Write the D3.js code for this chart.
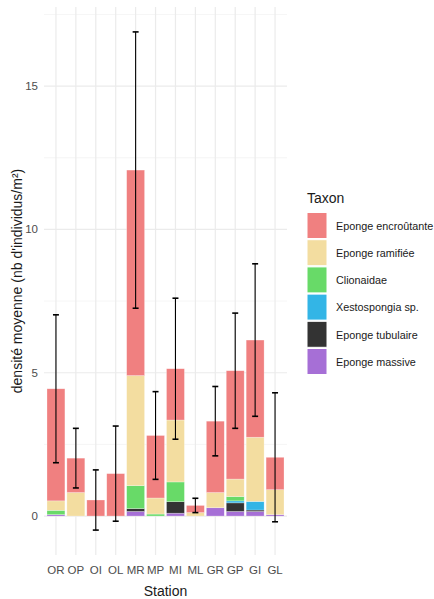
<!DOCTYPE html>
<html>
<head>
<meta charset="utf-8">
<script src="https://cdn.jsdelivr.net/npm/d3@7"></script>
<style>
  body { margin: 0; background: #fff; }
  text { font-family: "Liberation Sans", Arial, sans-serif; }
</style>
</head>
<body>
<div id="chart"></div>
<script>
const stations = ["OR", "OP", "OI", "OL", "MR", "MP", "MI", "ML", "GR", "GP", "GI", "GL"]

// densité moyenne par taxon (nb d'individus/m²)
const encroutante = [3.91, 1.20, 0.56, 1.48, 7.17, 2.18, 1.79, 0.25, 2.49, 3.78, 3.39, 1.13]
const ramifiee    = [0.33, 0.82, 0,    0,    3.84, 0.56, 2.16, 0.12, 0.53, 0.61, 2.24, 0.87]
const clionaidae  = [0.15, 0,    0,    0,    0.80, 0.07, 0.69, 0,    0,    0.15, 0,    0]
const xestospongia= [0,    0,    0,    0,    0,    0,    0,    0,    0,    0.07, 0.30, 0]
const tubulaire   = [0,    0,    0,    0,    0.10, 0,    0.40, 0,    0,    0.30, 0.05, 0]
const massive     = [0.05, 0,    0,    0,    0.16, 0,    0.10, 0,    0.29, 0.16, 0.16, 0.05]
// écart-type du total
const sdTotal     = [2.58, 1.04, 1.05, 1.66, 4.82, 1.53, 2.46, 0.25, 1.21, 2.01, 2.66, 2.25]

const taxa = ["Eponge encroûtante", "Eponge ramifiée", "Clionaidae", "Xestospongia sp.", "Eponge tubulaire", "Eponge massive"]
const taxonColors = ["#F08080", "#F3DDA0", "#68DA68", "#33B5E6", "#333333", "#A66FD6"]
const series = [encroutante, ramifiee, clionaidae, xestospongia, tubulaire, massive]
const yTicks = [0, 5, 10, 15]
const yMinor = [2.5, 7.5, 12.5, 17.5]

const width = 434, height = 599
const panel = { left: 44, right: 287, top: 7, bottom: 555 }

const rows = stations.map((s, i) => {
    const r = { station: s }
    taxa.forEach((t, j) => r[t] = series[j][i])
    r.total = d3.sum(series, a => a[i])
    r.sd = sdTotal[i]
    return r
})

// ggplot stacks the first level on top
const stack = d3.stack().keys(taxa.slice().reverse())(rows)

const lo = Math.min(0, d3.min(rows, d => d.total - d.sd))
const hi = d3.max(rows, d => d.total + d.sd)
const pad = (hi - lo) * 0.05

const y = d3.scaleLinear().domain([lo - pad, hi + pad]).range([panel.bottom, panel.top])
const x = d3.scaleBand().domain(stations).range([panel.left, panel.right])
    .paddingInner(0).paddingOuter(0.1)
const step = x.step()
const xc = s => x(s) + step / 2
const color = d3.scaleOrdinal(taxa, taxonColors)

const svg = d3.select("#chart").append("svg")
    .attr("width", width)
    .attr("height", height)

// grid
const grid = svg.append("g")
grid.selectAll(".minor").data(yMinor).join("line")
    .attr("x1", panel.left).attr("x2", panel.right)
    .attr("y1", d => y(d)).attr("y2", d => y(d))
    .attr("stroke", "#F2F2F2").attr("stroke-width", 0.8)
grid.selectAll(".major").data(yTicks).join("line")
    .attr("x1", panel.left).attr("x2", panel.right)
    .attr("y1", d => y(d)).attr("y2", d => y(d))
    .attr("stroke", "#EBEBEB").attr("stroke-width", 1.2)
grid.selectAll(".vx").data(stations).join("line")
    .attr("x1", xc).attr("x2", xc)
    .attr("y1", panel.top).attr("y2", panel.bottom)
    .attr("stroke", "#EBEBEB").attr("stroke-width", 1.2)

// bars
const bw = step * 0.9
svg.append("g")
    .selectAll("g")
    .data(stack)
    .join("g")
    .attr("fill", d => color(d.key))
    .selectAll("rect")
    .data(d => d.filter(p => p[1] - p[0] > 0))
    .join("rect")
    .attr("x", d => xc(d.data.station) - bw / 2)
    .attr("width", bw)
    .attr("y", d => y(d[1]))
    .attr("height", d => y(d[0]) - y(d[1]))
    .attr("stroke", "#fff")
    .attr("stroke-opacity", 0.45)
    .attr("stroke-width", 0.6)

// error bars
const cap = step * 0.3
const eb = svg.append("g").attr("stroke", "#000").attr("stroke-width", 1.1)
eb.selectAll(".v").data(rows).join("line")
    .attr("x1", d => xc(d.station)).attr("x2", d => xc(d.station))
    .attr("y1", d => y(d.total - d.sd)).attr("y2", d => y(d.total + d.sd))
eb.selectAll(".top").data(rows).join("line")
    .attr("x1", d => xc(d.station) - cap / 2).attr("x2", d => xc(d.station) + cap / 2)
    .attr("y1", d => y(d.total + d.sd)).attr("y2", d => y(d.total + d.sd))
    .attr("stroke-width", 1.6)
eb.selectAll(".bot").data(rows).join("line")
    .attr("x1", d => xc(d.station) - cap / 2).attr("x2", d => xc(d.station) + cap / 2)
    .attr("y1", d => y(d.total - d.sd)).attr("y2", d => y(d.total - d.sd))
    .attr("stroke-width", 1.6)

// axes labels
svg.append("g").selectAll("text").data(yTicks).join("text")
    .attr("x", 38).attr("y", d => y(d)).attr("dy", "0.35em")
    .attr("text-anchor", "end")
    .attr("font-size", 11.5).attr("fill", "#4D4D4D")
    .text(d => d)

svg.append("g").selectAll("text").data(stations).join("text")
    .attr("x", xc).attr("y", 570).attr("dy", "0.35em")
    .attr("text-anchor", "middle")
    .attr("font-size", 11.5).attr("fill", "#4D4D4D")
    .text(d => d)

svg.append("text")
    .attr("x", (panel.left + panel.right) / 2).attr("y", 591).attr("dy", "0.35em")
    .attr("text-anchor", "middle").attr("font-size", 14).attr("fill", "#1A1A1A")
    .text("Station")

svg.append("text")
    .attr("transform", `translate(17,${(panel.top + panel.bottom) / 2}) rotate(-90)`)
    .attr("dy", "0.35em")
    .attr("text-anchor", "middle").attr("font-size", 14).attr("fill", "#1A1A1A")
    .text("densité moyenne (nb d'individus/m²)")

// legend
const legend = svg.append("g").attr("transform", "translate(307,0)")
legend.append("text")
    .attr("x", 0).attr("y", 198).attr("dy", "0.35em")
    .attr("font-size", 14).attr("fill", "#1A1A1A")
    .text("Taxon")
const keys = legend.selectAll("g.key").data(taxa).join("g")
    .attr("transform", (d, i) => `translate(0,${212.5 + i * 27.2})`)
keys.append("rect")
    .attr("width", 20).attr("height", 26)
    .attr("fill", d => color(d))
    .attr("stroke", "#fff").attr("stroke-width", 1)
keys.append("text")
    .attr("x", 29).attr("y", 13.5).attr("dy", "0.35em")
    .attr("font-size", 10.8).attr("fill", "#1A1A1A")
    .text(d => d)
</script>
</body>
</html>
